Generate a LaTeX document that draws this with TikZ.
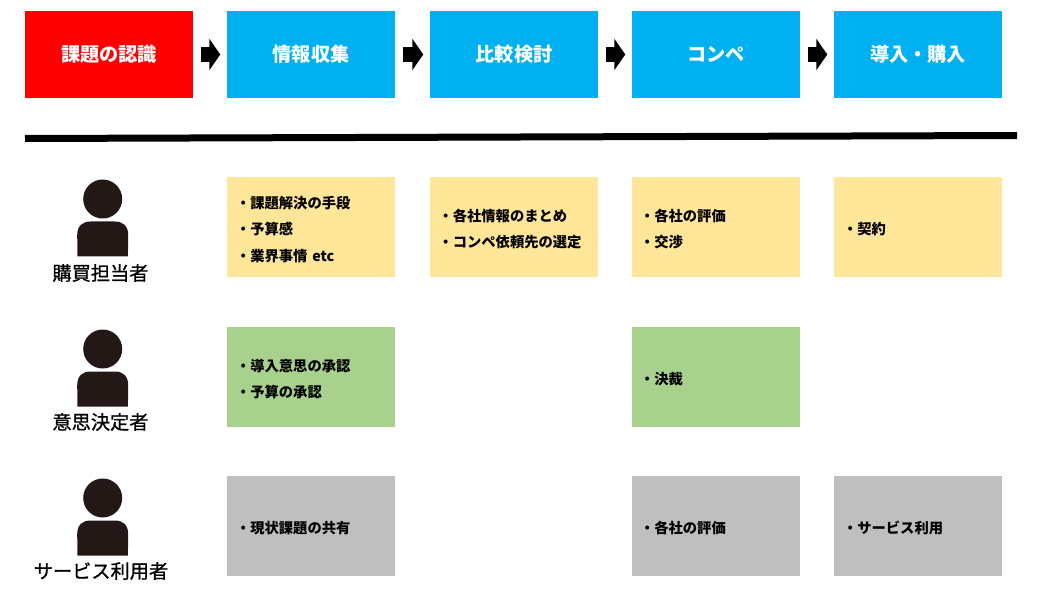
\documentclass[tikz,border=0pt]{standalone}
\usepackage{fontspec}
\newfontfamily\jpfont{Noto Sans CJK JP}
\newfontfamily\jpheavy[FakeBold=1]{Noto Sans CJK JP}
\usetikzlibrary{arrows.meta}
\definecolor{stepred}{HTML}{FF0000}
\definecolor{stepblue}{HTML}{00B0F0}
\definecolor{noteyellow}{HTML}{FFE699}
\definecolor{notegreen}{HTML}{A9D18E}
\definecolor{notegray}{HTML}{BFBFBF}
\definecolor{figure}{HTML}{231815}
\begin{document}
\begin{tikzpicture}
    [
    x=1pt,y=-1pt,
    stage/.style={rectangle,inner sep=0pt,minimum width=168pt,minimum height=87pt,text=white,font=\jpfont\bfseries\fontsize{19.2}{23}\selectfont},
    note/.style={rectangle,inner sep=0pt,minimum width=168pt,minimum height=100pt,align=left,font=\jpfont\bfseries\fontsize{14.3}{26.3}\selectfont,execute at begin node={\rule{0pt}{17pt}}},
    role/.style={inner sep=0pt,font=\jpheavy\fontsize{19.2}{23}\selectfont},
    flow/.style={line width=15pt,-{Triangle[length=11pt,width=31pt]},shorten <=8pt,shorten >=6.5pt},
    person/.pic={
      \fill [figure] (0,19.5) circle [radius=19.5];
      \fill [figure] (-25.2,77) -- (-25.5,56) .. controls (-25.5,46) and (-20,42) .. (-12,42) -- (12,42) .. controls (20,42) and (25.5,46) .. (25.5,56) -- (25.2,77) -- cycle;
    }
    ]
    \useasboundingbox (0,0) rectangle (1039,596);
    \node (problem) at (109,54.5) [stage,fill=stepred] {課題の認識};
    \node (research) at (311,54.5) [stage,fill=stepblue] {情報収集};
    \node (compare) at (514,54.5) [stage,fill=stepblue] {比較検討};
    \node (pitch) at (716,54.5) [stage,fill=stepblue] {コンペ};
    \node (purchase) at (918,54.5) [stage,fill=stepblue] {導入・購入};
    \draw [flow] (problem) -- (research);
    \draw [flow] (research) -- (compare);
    \draw [flow] (compare) -- (pitch);
    \draw [flow] (pitch) -- (purchase);
    \coordinate (ruleleft) at (25,138.5);
    \coordinate (ruleright) at (1017,135.5);
    \draw [line width=7pt] (ruleleft) -- (ruleright);
    \pic at (102.7,179.5) {person};
    \pic at (102.7,329.5) {person};
    \pic at (102.7,478.5) {person};
    \node (buyer) at (100.5,273) [role] {購買担当者};
    \node (decider) at (100.5,422) [role] {意思決定者};
    \node (user) at (101,571) [role] {サービス利用者};
    \node (buyer1) at (311,227) [note,fill=noteyellow,text width=150pt] {・課題解決の手段\\・予算感\\・業界事情 etc};
    \node (buyer2) at (514,227) [note,fill=noteyellow,text width=151pt] {・各社情報のまとめ\\・コンペ依頼先の選定};
    \node (buyer3) at (716,227) [note,fill=noteyellow,text width=152pt] {・各社の評価\\・交渉};
    \node (buyer4) at (918,227) [note,fill=noteyellow,text width=150pt] {・契約};
    \node (decider1) at (311,377) [note,fill=notegreen,text width=150pt] {・導入意思の承認\\・予算の承認};
    \node (decider3) at (716,377) [note,fill=notegreen,text width=152pt] {・決裁};
    \node (user1) at (311,526) [note,fill=notegray,text width=150pt] {・現状課題の共有};
    \node (user3) at (716,526) [note,fill=notegray,text width=152pt] {・各社の評価};
    \node (user4) at (918,526) [note,fill=notegray,text width=150pt] {・サービス利用};
\end{tikzpicture}
\end{document}
